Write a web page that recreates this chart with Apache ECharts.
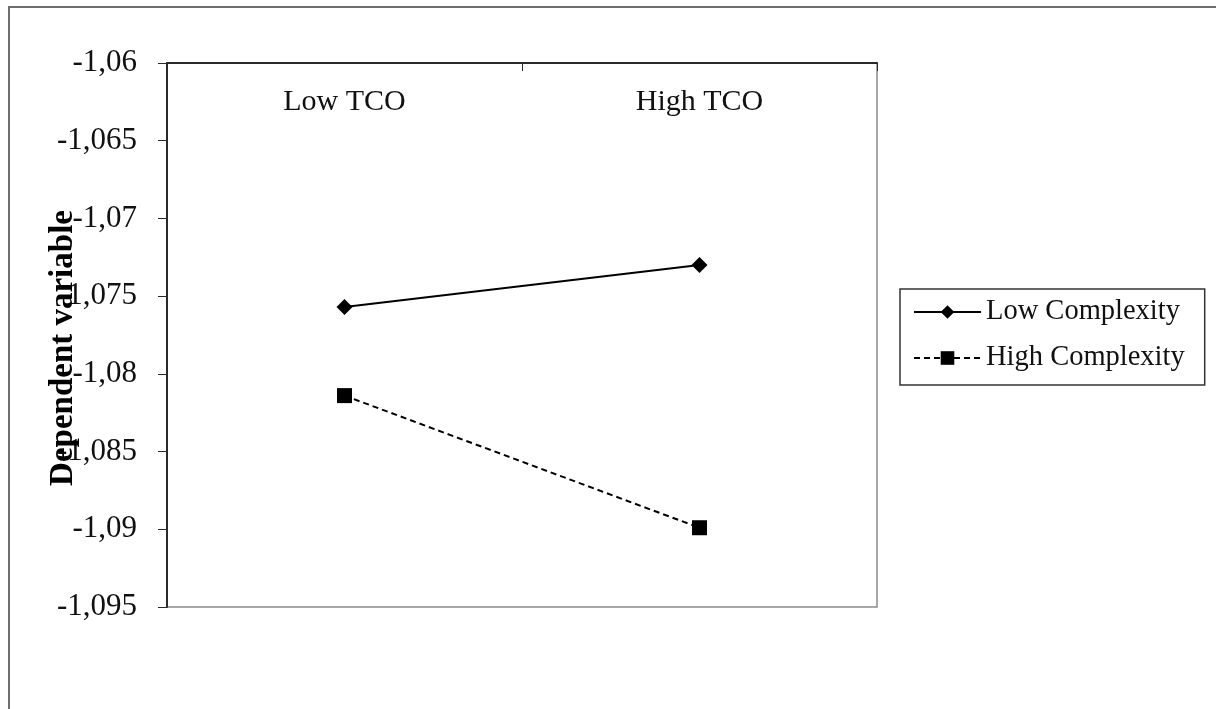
<!DOCTYPE html>
<html>
<head>
<meta charset="utf-8">
<script src="https://cdn.jsdelivr.net/npm/echarts@6/dist/echarts.min.js"></script>
<style>
html,body{margin:0;padding:0;background:#fff;}
#main{width:1216px;height:709px;}
</style>
</head>
<body>
<div id="main"></div>
<script>
// ---- data ----
const categories = ['Low TCO', 'High TCO'];
const seriesNames = ['Low Complexity', 'High Complexity'];
const lowComplexity = [-1.0757, -1.0730];
const highComplexity = [-1.0814, -1.0899];
const yMin = -1.095;
const yMax = -1.06;
const yStep = 0.005;
const yTitle = 'Dependent variable';

const FONT = 'Liberation Serif, Times New Roman, serif';
const chart = echarts.init(document.getElementById('main'));
chart.setOption({
  animation: false,
  backgroundColor: '#fff',
  graphic: [{
    type: 'rect', silent: true,
    shape: { x: 9, y: 7, width: 1400, height: 1000 },
    style: { fill: 'none', stroke: '#6e6e6e', lineWidth: 2 }
  }, {
    type: 'text', silent: true, z: 100,
    x: 63, y: 348, rotation: Math.PI / 2,
    style: {
      text: yTitle, fontFamily: FONT, fontSize: 33, fontWeight: 'bold', fill: '#000',
      align: 'center', verticalAlign: 'middle'
    }
  }],
  grid: {
    left: 167, right: 339, top: 63, bottom: 102,
    show: true, borderColor: '#8a8a8a', borderWidth: 1.5, backgroundColor: 'transparent'
  },
  legend: {
    orient: 'vertical',
    left: 900, top: 289,
    padding: [8, 20, 12, 13],
    itemGap: 16,
    itemWidth: 67, itemHeight: 17,
    itemTextGap: 11,
    borderColor: '#333', borderWidth: 1.5,
    textStyle: { fontFamily: FONT, fontSize: 28.5, color: '#111', lineHeight: 30 },
    data: seriesNames
  },
  xAxis: {
    type: 'category',
    position: 'top',
    data: categories,
    boundaryGap: true,
    axisLine: { show: true, lineStyle: { color: '#2a2a2a', width: 2 } },
    axisTick: { show: true, inside: true, length: 8, lineStyle: { color: '#2a2a2a' } },
    axisLabel: { inside: true, margin: 24, fontFamily: FONT, fontSize: 30, color: '#111' },
    splitLine: { show: false }
  },
  yAxis: {
    type: 'value',
    min: yMin, max: yMax, interval: yStep,
    axisLine: { show: true, lineStyle: { color: '#2a2a2a', width: 2 } },
    axisTick: { show: true, inside: false, length: 9, lineStyle: { color: '#2a2a2a' } },
    axisLabel: {
      margin: 30, fontFamily: FONT, fontSize: 31, color: '#111',
      formatter: v => String(Number(v.toFixed(3))).replace('.', ',')
    },
    splitLine: { show: false }
  },
  series: [
    {
      name: seriesNames[0], type: 'line', data: lowComplexity,
      symbol: 'diamond', symbolSize: 16,
      lineStyle: { color: '#000', width: 2, type: 'solid' },
      itemStyle: { color: '#000' }
    },
    {
      name: seriesNames[1], type: 'line', data: highComplexity,
      symbol: 'rect', symbolSize: 15,
      lineStyle: { color: '#000', width: 2, type: [6, 4] },
      itemStyle: { color: '#000' }
    }
  ]
});
</script>
</body>
</html>
